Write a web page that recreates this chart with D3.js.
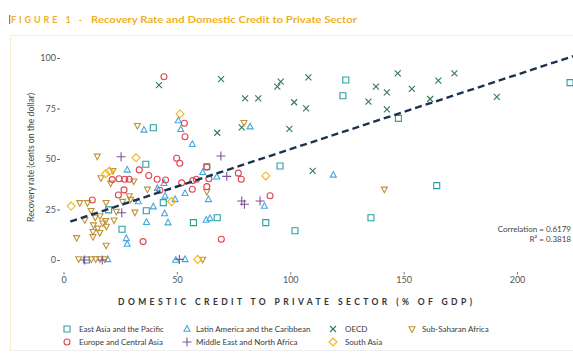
<!DOCTYPE html>
<html><head><meta charset="utf-8">
<script src="https://cdn.jsdelivr.net/npm/d3@7"></script>
<style>
html,body{margin:0;padding:0;background:#fff;}
svg{display:block;font-family:"Lato","Open Sans",sans-serif;}
</style></head>
<body><div id="chart"></div>
<script>
// ---- data (x = domestic credit % of GDP, y = recovery rate) ----
const eastAsia = [[39.6,65.5],[36.3,47.4],[124.5,89.1],[123.2,81.3],[147.7,70.1],[95.5,46.5],[89.2,18.5],[102.1,14.5],[135.6,20.9],[164.6,36.8],[223.4,87.8],[63.2,46.2],[44,28.4],[57.3,18.5],[67.8,20.9],[19.9,24.8],[36.5,24.4],[25.8,15.2],[10.1,0]];
const latinAmerica = [[35.5,64.4],[50.6,69],[51.7,64.7],[56.8,57.3],[28.1,44.6],[61.4,43.4],[67.6,41.2],[82.3,66],[119,42.1],[88.6,26.7],[44.3,38],[41.4,35.5],[33,28.9],[39.6,26.4],[44.8,31.7],[49.2,30],[53.6,33],[44.6,23],[36.6,18.7],[46.1,18.5],[27.7,10.7],[28.1,7.9],[63.9,30],[62.9,19.8],[64.6,20.6],[49.5,0],[53.6,0.3],[19.5,0.3]];
const oecd = [[42.1,86.6],[69.5,89.5],[67.8,63],[78.6,65.7],[80.1,80],[85.9,80],[94.3,85.8],[95.8,88.3],[108,90.4],[101.7,78.1],[107,75.1],[99.6,64.9],[137.8,85.8],[142.6,83],[147.4,92.4],[134.5,78.4],[142.6,74.6],[153.6,84.7],[109.9,44.1],[165.3,88.8],[172.4,92.4],[161.7,79.7],[191.1,80.8]];
const subSaharan = [[32.6,66.5],[79.6,68],[141.5,35],[14.9,51.3],[21.8,44.2],[16.5,40.6],[20.8,38],[31,39],[37,35],[7.2,28.3],[10.6,28.3],[18.8,28.4],[26.1,28.9],[29,31.7],[29.6,30],[12.2,24.4],[23.3,24],[31.5,23.6],[9.4,19.8],[14,21.1],[16.1,21.8],[18.6,19.4],[22.3,19.7],[13.2,17.3],[15.1,15.7],[13,14],[17.3,18.2],[18.9,16.6],[16,13.5],[5.8,11],[13,11.5],[18.8,7.2],[63.2,33.8],[6.7,0.5],[12.3,0.5],[14.2,0.5],[16,0.5],[18.2,0.5],[61.4,0.3]];
const europe = [[44.3,90.7],[53.3,67.7],[53.6,61],[49.9,50.4],[51.3,47.9],[33.4,44.6],[63.2,46],[21.5,39.8],[24.5,40.2],[27,40],[29,40],[37.6,41.8],[41.3,40],[45,39.6],[42.5,34.5],[26.7,34.7],[24.2,32.2],[12.7,29.7],[35.1,9.1],[52.1,38.2],[57,39.3],[58.6,40],[56.8,35],[64.1,40.2],[63.2,36.3],[69.6,10.3],[77.1,43],[78.4,40],[91.1,31.8]];
const middleEast = [[25.4,51.1],[69.4,51.5],[72,41.4],[25.7,23.4],[78.6,29.2],[79.8,27.6],[86.7,29.2],[9.3,0],[17.1,0],[51.1,0.3]];
const southAsia = [[51.4,72.3],[32,50.6],[18.6,42.7],[20.3,44],[3.4,26.7],[47.7,28.9],[89.2,41.6],[59.2,0.3]];
const trend = [[3,19],[225,101]];
const xTicks = [0,50,100,150,200];
const yTicks = [0,25,50,75,100];
const regionNames = ["East Asia and the Pacific","Latin America and the Caribbean","OECD","Sub-Saharan Africa","Europe and Central Asia","Middle East and North Africa","South Asia"];
const stats = ["Correlation = 0.6179","R\u00B2 = 0.3818"];

// ---- styling ----
const W = 573, H = 354;
const groups = [
  {name:regionNames[0], data:eastAsia, shape:"square", color:"#2b9fa3"},
  {name:regionNames[1], data:latinAmerica, shape:"triUp", color:"#44a8df"},
  {name:regionNames[2], data:oecd, shape:"x", color:"#2f7a5c"},
  {name:regionNames[3], data:subSaharan, shape:"triDown", color:"#bf9238"},
  {name:regionNames[4], data:europe, shape:"circle", color:"#e2454f"},
  {name:regionNames[5], data:middleEast, shape:"plus", color:"#7a5496"},
  {name:regionNames[6], data:southAsia, shape:"diamond", color:"#f2b51c"}
];
const shapes = {
  square: "M-3,-3H3V3H-3Z",
  circle: "M3,0A3,3 0 1,1 -3,0A3,3 0 1,1 3,0Z",
  triUp: "M0,-3.4L3,2.2H-3Z",
  triDown: "M0,3.4L3,-2.2H-3Z",
  x: "M-3,-3L3,3M-3,3L3,-3",
  plus: "M-4.5,0H4.5M0,-4.5V4.5",
  diamond: "M0,-4L4,0L0,4L-4,0Z"
};

const svg = d3.select("#chart").append("svg").attr("width",W).attr("height",H);

// panel border
svg.append("rect").attr("x",10.5).attr("y",35.5).attr("width",W).attr("height",315)
  .attr("fill","none").attr("stroke","#efefef");
svg.append("line").attr("x1",10.5).attr("x2",10.5).attr("y1",35.5).attr("y2",350.5).attr("stroke","#f8ecd0");

// title
svg.append("rect").attr("x",9).attr("y",15).attr("width",1.2).attr("height",9).attr("fill","#b07c10");
svg.append("text").attr("x",11).attr("y",23).attr("fill","#f2b01e").attr("font-size",9)
  .attr("font-weight","bold").attr("textLength",71).attr("lengthAdjust","spacing").text("FIGURE 1 -");
svg.append("text").attr("x",91).attr("y",23).attr("fill","#f2b01e").attr("font-size",9.5)
  .attr("font-weight","bold").attr("textLength",266).attr("lengthAdjust","spacingAndGlyphs")
  .text("Recovery Rate and Domestic Credit to Private Sector");

const x = d3.scaleLinear().domain([0,200]).range([63.5,517]);
const y = d3.scaleLinear().domain([0,100]).range([260,58]);

// axes
const yAxis = svg.append("g").attr("transform","translate(60,0)")
  .call(d3.axisLeft(y).tickValues(yTicks).tickSize(3).tickPadding(1));
yAxis.select(".domain").remove();
yAxis.selectAll("line").attr("stroke","#666");
yAxis.selectAll("text").attr("font-size",9).attr("fill","#555").attr("font-family","Lato, sans-serif");

const xAxis = svg.append("g").attr("transform","translate(0,272)")
  .call(d3.axisBottom(x).tickValues(xTicks).tickSize(2.5).tickPadding(2.5));
xAxis.select(".domain").remove();
xAxis.selectAll("line").attr("stroke","#777");
xAxis.selectAll("text").attr("font-size",9).attr("fill","#555").attr("font-family","Lato, sans-serif");

// axis titles
svg.append("text").attr("x",118).attr("y",305).attr("font-size",8.5).attr("font-weight","bold")
  .attr("fill","#333").attr("textLength",354).attr("lengthAdjust","spacing")
  .text("DOMESTIC CREDIT TO PRIVATE SECTOR (% OF GDP)");
svg.append("text").attr("transform","translate(34,157.5) rotate(-90)").attr("text-anchor","middle")
  .attr("font-size",8.5).attr("fill","#444").attr("textLength",129).attr("lengthAdjust","spacingAndGlyphs")
  .text("Recovery rate (cents on the dollar)");

// points
const plot = svg.append("g");
groups.forEach(g => {
  plot.append("g").selectAll("path").data(g.data).join("path")
    .attr("transform", d => `translate(${x(d[0])},${y(d[1])})`)
    .attr("d", shapes[g.shape]).attr("fill","none").attr("stroke", g.color).attr("stroke-width",1.1);
});

// trend line
svg.append("path").datum(trend)
  .attr("d", d3.line().x(d=>x(d[0])).y(d=>y(d[1])))
  .attr("fill","none").attr("stroke","#1c3350").attr("stroke-width",2.4).attr("stroke-dasharray","7,4");

// stats
svg.append("text").attr("x",571).attr("y",232).attr("text-anchor","end").attr("font-size",8).attr("fill","#444").text(stats[0]);
svg.append("text").attr("x",571).attr("y",242).attr("text-anchor","end").attr("font-size",8).attr("fill","#444").text(stats[1]);

// legend
const legPos = [[67,329],[187,329],[333,329],[412,329],[67,342],[187,342],[333,342]];
const textX = [79,196,345,422,79,196,345];
groups.forEach((g,i) => {
  svg.append("path").attr("transform",`translate(${legPos[i][0]},${legPos[i][1]})`)
    .attr("d", shapes[g.shape]).attr("fill","none").attr("stroke",g.color).attr("stroke-width",1.1);
  svg.append("text").attr("x",textX[i]).attr("y",legPos[i][1]+2.8).attr("font-size",8)
    .attr("fill","#3a3a3a").text(g.name);
});
</script></body></html>
